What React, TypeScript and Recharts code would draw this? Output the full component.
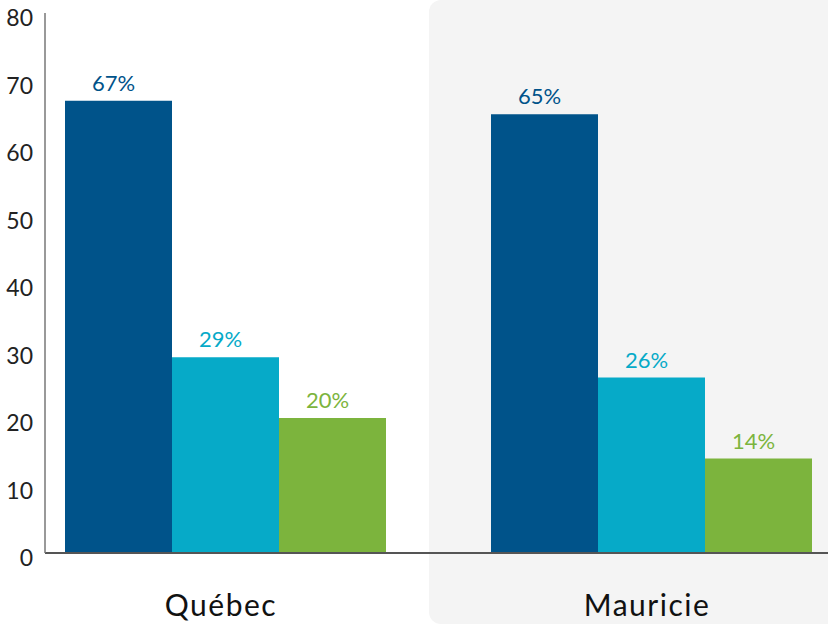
import React from 'react';
import { BarChart, Bar, XAxis, YAxis, LabelList } from 'recharts';

const regions = ['Québec', 'Mauricie'];
const serieA = [67, 65];
const serieB = [29, 26];
const serieC = [20, 14];
const yTicks = [0, 10, 20, 30, 40, 50, 60, 70, 80];

const COLORS = ['#00538a', '#06aac8', '#7cb43d'];

const data = regions.map((name, i) => ({
  name,
  a: serieA[i],
  b: serieB[i],
  c: serieC[i],
}));

const YTick = (props: any) => {
  const { y, payload } = props;
  return (
    <text x={33} y={y + 13} textAnchor="end" fill="#222" fontSize={23} fontFamily="Lato, sans-serif">
      {payload.value}
    </text>
  );
};

const XTick = (props: any) => {
  const { x, payload } = props;
  return (
    <text
      x={x - 4}
      y={616}
      textAnchor="middle"
      fill="#111"
      fontSize={30}
      letterSpacing={1.5}
      fontFamily="Lato, sans-serif"
    >
      {payload.value}
    </text>
  );
};

export default function App() {
  return (
    <div style={{ position: 'absolute', left: 0, top: 0, width: 828, height: 624, overflow: 'hidden', background: '#fff' }}>
      <div
        style={{
          position: 'absolute',
          left: 429,
          top: 0,
          width: 420,
          height: 624,
          borderRadius: 12,
          background: '#f4f4f4',
        }}
      />
      <div style={{ position: 'absolute', left: 0, top: 0 }}>
        <BarChart
          width={828}
          height={624}
          data={data}
          margin={{ top: 13, right: 0, left: 0, bottom: 0 }}
          barCategoryGap={53}
          barGap={0}
        >
          <XAxis
            dataKey="name"
            height={71}
            padding={{ left: -33, right: -36 }}
            axisLine={{ stroke: '#555', strokeWidth: 2 }}
            tickLine={false}
            tick={<XTick />}
            interval={0}
          />
          <YAxis
            width={45}
            domain={[0, 80]}
            ticks={yTicks}
            axisLine={{ stroke: '#777', strokeWidth: 1.5 }}
            tickLine={false}
            tick={<YTick />}
            interval={0}
          />
          {['a', 'b', 'c'].map((key, i) => (
            <Bar key={key} dataKey={key} fill={COLORS[i]} isAnimationActive={false}>
              <LabelList
                dataKey={key}
                position="top"
                offset={10}
                dx={-5}
                fill={COLORS[i]}
                fontSize={22}
                fontFamily="Lato, sans-serif"
                formatter={(v: any) => `${v}%`}
              />
            </Bar>
          ))}
        </BarChart>
      </div>
    </div>
  );
}
